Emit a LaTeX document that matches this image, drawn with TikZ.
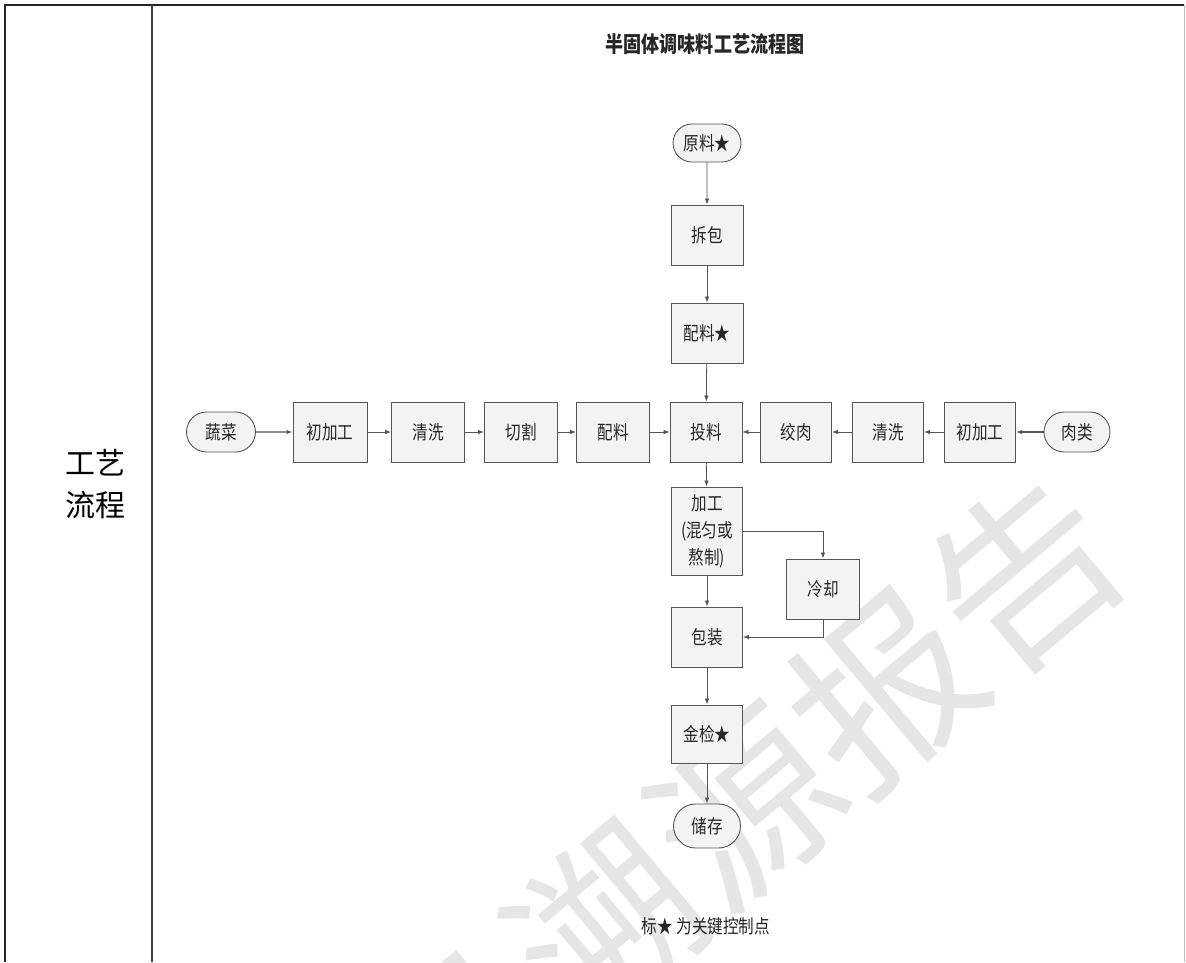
\documentclass[tikz,border=0pt]{standalone}
\usepackage{fontspec}
\setmainfont{Liberation Sans}
\newfontfamily\cjk[FakeStretch=0.82]{Noto Sans CJK SC}
\newfontfamily\cjkplain{Noto Sans CJK SC}
\usetikzlibrary{arrows.meta,shapes.misc}
\definecolor{boxline}{HTML}{555555}
\definecolor{boxfill}{HTML}{F3F3F3}
\definecolor{wmark}{HTML}{E6E6E6}
\begin{document}
\begin{tikzpicture}[x=1pt,y=-1pt,
  proc/.style={draw=boxline,fill=boxfill,line width=0.9pt,minimum width=72pt,minimum height=60pt,inner sep=2pt,
    font=\cjk\fontsize{19}{27}\selectfont,text=black!85},
  term/.style={proc,rounded rectangle,minimum height=38pt},
  conn/.style={draw=boxline,line width=0.8pt,-{Latex[length=6pt,width=4.5pt]}},
  thickconn/.style={conn,line width=1.3pt}]
\useasboundingbox (0,0) rectangle (1186,962);
\fill[white] (0,0) rectangle (1186,962);
% watermark
\begin{scope}
\clip (0,0) rectangle (1186,962);
\node[text=wmark,rotate=40,font=\cjkplain\fontsize{182}{182}\selectfont,inner sep=0pt] (wm) at (676,866) {食品溯源报告};
\end{scope}
% table
\draw[line width=1.4pt,black!85] (5,962) -- (5,5) -- (1184,5);
\draw[line width=1.2pt,black!75] (152,5) -- (152,962);
\draw[line width=0.8pt,black!25] (1184,5) -- (1184,962);
\node[font=\cjkplain\fontsize{30}{42}\selectfont,align=center,inner sep=0pt] (lbl) at (95,484) {工艺\\流程};
% title
\node[font=\cjk\bfseries\fontsize{22}{26}\selectfont,text=black!85] (title) at (705,44) {半固体调味料工艺流程图};
% nodes
\node[term] (raw) at (707,143) {原料★};
\node[proc] (unpack) at (707,235) {拆包};
\node[proc] (mix1) at (707,333) {配料★};
\node[proc] (feed) at (706,432) {投料};
\node[term,minimum width=73pt,minimum height=40pt] (veg) at (221,432) {蔬菜};
\node[proc,minimum width=74pt] (vpre) at (330,432) {初加工};
\node[proc,minimum width=73pt] (vwash) at (428,432) {清洗};
\node[proc,minimum width=73pt] (vcut) at (521,432) {切割};
\node[proc,minimum width=73pt] (vmix) at (613,432) {配料};
\node[proc,minimum width=71pt] (mince) at (796,432) {绞肉};
\node[proc,minimum width=71pt] (mwash) at (888,432) {清洗};
\node[proc,minimum width=71pt] (mpre) at (980,432) {初加工};
\node[term,minimum width=70pt,minimum height=40pt] (meat) at (1077,432) {肉类};
\node[proc,minimum width=71pt,minimum height=88pt,align=center] (work) at (707,531) {加工\\(混匀或\\熬制)};
\node[proc,minimum width=73pt] (cool) at (823,589) {冷却};
\node[proc,minimum width=71pt] (pack) at (707,637) {包装};
\node[proc,minimum width=71pt,minimum height=58pt] (metal) at (707,734) {金检★};
\node[term,minimum width=71pt,minimum height=44pt] (store) at (707,826) {储存};
\node[font=\cjk\fontsize{19}{22}\selectfont,text=black!85] (note) at (706,926) {标★ 为关键控制点};
% connectors
\draw[conn] (raw) -- (unpack);
\draw[conn] (unpack) -- (mix1);
\draw[conn] (mix1) -- (feed);
\draw[thickconn] (veg) -- (vpre);
\draw[conn] (vpre) -- (vwash);
\draw[conn] (vwash) -- (vcut);
\draw[conn] (vcut) -- (vmix);
\draw[conn] (vmix) -- (feed);
\draw[thickconn] (meat) -- (mpre);
\draw[conn] (mpre) -- (mwash);
\draw[conn] (mwash) -- (mince);
\draw[conn] (mince) -- (feed);
\draw[conn] (feed) -- (work);
\draw[conn] (work.east) -| (cool.north);
\draw[conn] (work) -- (pack);
\draw[conn] (cool.south) |- (pack.east);
\draw[conn] (pack) -- (metal);
\draw[conn] (metal) -- (store);
\end{tikzpicture}
\end{document}
